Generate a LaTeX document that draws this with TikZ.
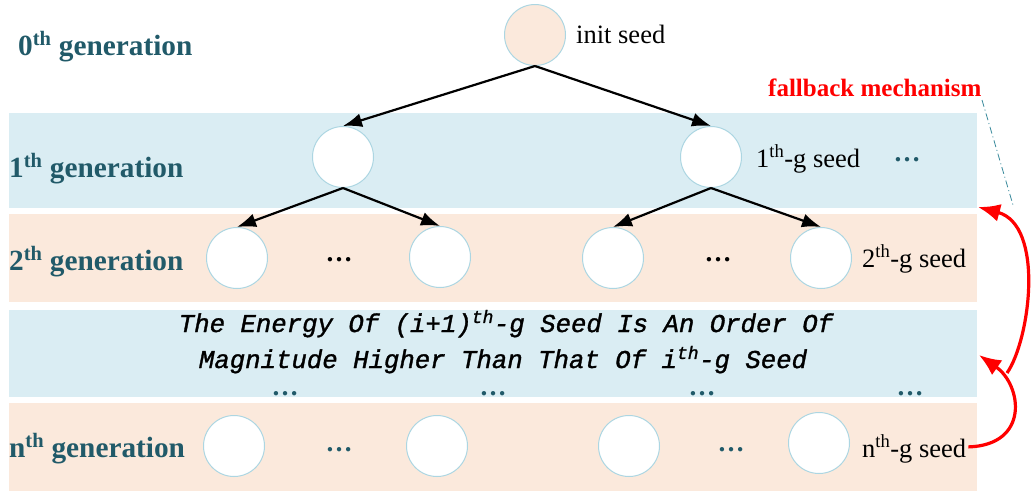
\documentclass[tikz,border=0pt]{standalone}
\usepackage{fontspec}
\setmainfont{Liberation Serif}
\newfontfamily\monofam{Liberation Mono}[ItalicFeatures={FakeBold=1.3}]
\usetikzlibrary{arrows.meta}
\definecolor{bandblue}{HTML}{DAEDF3}
\definecolor{bandpeach}{HTML}{FBE9DC}
\definecolor{ringblue}{HTML}{ACD6E2}
\definecolor{gentext}{HTML}{215A69}
\definecolor{dashteal}{HTML}{3A8A9C}
\tikzset{
  seed/.style={circle, draw=ringblue, line width=1pt, fill=white, minimum size=61pt, inner sep=0pt},
  genlabel/.style={anchor=base west, inner sep=0pt, text=gentext, font=\fontsize{29.3}{36}\selectfont\bfseries},
  seedlabel/.style={anchor=base west, inner sep=0pt, text=black, font=\fontsize{26.5}{30}\selectfont},
  dotsblack/.style={anchor=base, inner sep=0pt, text=black, font=\fontsize{27}{30}\selectfont\bfseries},
  dotsteal/.style={anchor=base, inner sep=0pt, text=gentext, font=\fontsize{27}{30}\selectfont\bfseries},
  treearrow/.style={line width=2.2pt, -{Latex[length=19pt,width=14pt]}},
  fallarrow/.style={line width=3.2pt, red, -{Latex[length=22pt,width=18pt]}},
  midtext/.style={anchor=base, inner sep=0pt, font=\fontsize{25.7}{30}\selectfont\monofam\itshape},
}
\begin{document}
\begin{tikzpicture}[x=1pt,y=-1pt]
\useasboundingbox (0,0) rectangle (1031,491);
\fill[white] (0,0) rectangle (1031,491);
% bands
\fill[bandblue] (9,113) rectangle (977,208);
\fill[bandpeach] (9,214) rectangle (977,302);
\fill[bandblue] (9,310) rectangle (977,397);
\fill[bandpeach] (9,403) rectangle (977,491);
% generation labels
\node[genlabel] (g0) at (18,55) {0\textsuperscript{th} generation};
\node[genlabel] (g1) at (9,177) {1\textsuperscript{th} generation};
\node[genlabel] (g2) at (9,270) {2\textsuperscript{th} generation};
\node[genlabel] (gn) at (9,457) {n\textsuperscript{th} generation};
% seeds
\node[seed, fill=bandpeach] (s0) at (535,35) {};
\node[seed] (s1a) at (343,157) {};
\node[seed] (s1b) at (711,157) {};
\node[seed] (s2a) at (237,258) {};
\node[seed] (s2b) at (440,257) {};
\node[seed] (s2c) at (613,258) {};
\node[seed] (s2d) at (821,258) {};
\node[seed] (sna) at (234,446) {};
\node[seed] (snb) at (437,446) {};
\node[seed] (snc) at (629,446) {};
\node[seed] (snd) at (819,443) {};
% seed labels
\node[seedlabel] (l0) at (576,43) {init seed};
\node[seedlabel] (l1) at (756,167) {1\textsuperscript{th}-g seed};
\node[seedlabel] (l2) at (862,267) {2\textsuperscript{th}-g seed};
\node[seedlabel] (ln) at (862,457) {n\textsuperscript{th}-g seed};
% dots
\node[dotsteal] (d1) at (907,161) {…};
\node[dotsblack] (d2a) at (339,261) {…};
\node[dotsblack] (d2b) at (718,261) {…};
\node[dotsteal] (d3a) at (285,395) {…};
\node[dotsteal] (d3b) at (493,395) {…};
\node[dotsteal] (d3c) at (702,395) {…};
\node[dotsteal] (d3d) at (910,395) {…};
\node[dotsteal] (dna) at (339,451) {…};
\node[dotsteal] (dnb) at (731,451) {…};
% middle text
\node[midtext] (e1) at (506,332) {The Energy Of (i+1)\textsuperscript{th}-g Seed Is An Order Of};
\node[midtext] (e2) at (503,368) {Magnitude Higher Than That Of i\textsuperscript{th}-g Seed};
% tree arrows
\draw[treearrow] (s0.south) -- (s1a.north);
\draw[treearrow] (s0.south) -- (s1b.north);
\draw[treearrow] (s1a.south) -- (s2a.north);
\draw[treearrow] (s1a.south) -- (s2b.north);
\draw[treearrow] (s1b.south) -- (s2c.north);
\draw[treearrow] (s1b.south) -- (s2d.north);
% fallback
\node[anchor=base west, inner sep=0pt, text=red, font=\fontsize{25}{28}\selectfont\bfseries] (fb) at (768,96) {fallback mechanism};
\coordinate (fbtop) at (982,100);
\coordinate (fbbot) at (1013,205);
\draw[dashteal, line width=0.8pt, dash pattern=on 7pt off 3pt on 1pt off 3pt] (fbtop) -- (fbbot);
\coordinate (tip1) at (979,355);
\coordinate (tip2) at (978,207);
\coordinate (branch) at (1007,373);
\draw[fallarrow] (ln.east) ++(2,-2) coordinate (fstart) .. controls (1030,445) and (1022,385) .. (tip1);
\draw[fallarrow] (branch) .. controls (1030,340) and (1045,225) .. (tip2);
\end{tikzpicture}
\end{document}
